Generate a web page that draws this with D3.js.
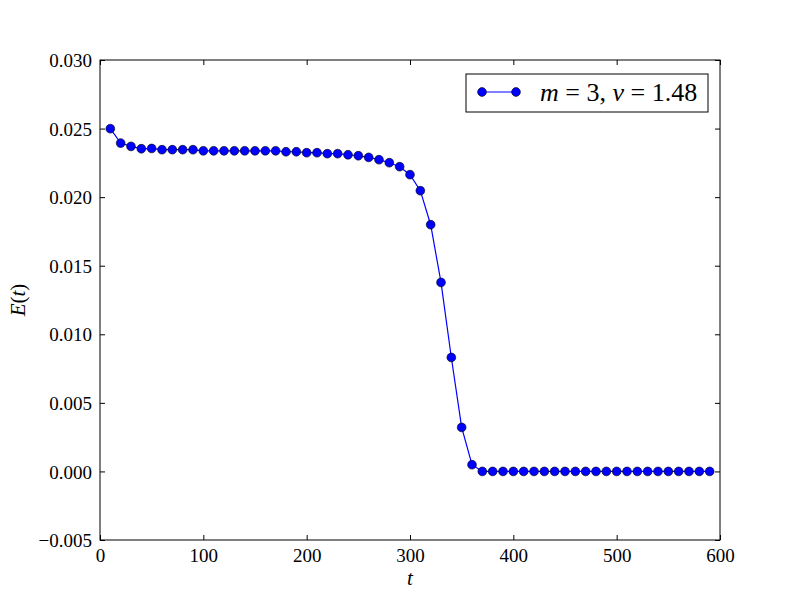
<!DOCTYPE html>
<html>
<head>
<meta charset="utf-8">
<script src="https://cdn.jsdelivr.net/npm/d3@7"></script>
<style>
body{margin:0;background:#fff;}
svg{display:block;}
text{font-family:"Liberation Serif","DejaVu Serif",serif;fill:#000;}
</style>
</head>
<body>
<svg id="chart" width="800" height="600"></svg>
<script>
const tValues = [10,20,30,40,50,60,70,80,90,100,110,120,130,140,150,160,170,180,190,200,
  210,220,230,240,250,260,270,280,290,300,310,320,330,340,350,360,370,380,390,400,
  410,420,430,440,450,460,470,480,490,500,510,520,530,540,550,560,570,580,590];
const eValues = [0.02499,0.02394,0.02370,0.02353,0.02355,0.02346,0.02346,0.02346,0.02346,0.02338,
  0.02338,0.02338,0.02338,0.02338,0.02338,0.02338,0.02338,0.02331,0.02331,0.02324,
  0.02324,0.02317,0.02317,0.02309,0.02302,0.02290,0.02273,0.02251,0.02222,0.02164,
  0.02047,0.01799,0.01378,0.00831,0.00321,0.00049,0,0,0,0,
  0,0,0,0,0,0,0,0,0,0,0,0,0,0,0,0,0,0,0];
const xTicks = [0,100,200,300,400,500,600];
const yTicks = [-0.005,0.000,0.005,0.010,0.015,0.020,0.025,0.030];

const svg = d3.select("#chart");
const L=100,R=720,T=60,B=540;
const x = d3.scaleLinear().domain([0,600]).range([L,R]);
const y = d3.scaleLinear().domain([-0.005,0.030]).range([B,T]);
const fmtY = v => { const s = Math.abs(v).toFixed(3); return (v < -1e-12 ? "\u2212" : "") + s; };

const tickLen = 5;
const gx = svg.append("g").attr("transform",`translate(0,${B})`)
  .call(d3.axisBottom(x).tickValues(xTicks).tickSize(-tickLen).tickPadding(9).tickFormat(d3.format("d")));
const gxt = svg.append("g").attr("transform",`translate(0,${T})`)
  .call(d3.axisTop(x).tickValues(xTicks).tickSize(-tickLen).tickFormat(""));
const gy = svg.append("g").attr("transform",`translate(${L},0)`)
  .call(d3.axisLeft(y).tickValues(yTicks).tickSize(-tickLen).tickPadding(8).tickFormat(fmtY));
const gyr = svg.append("g").attr("transform",`translate(${R},0)`)
  .call(d3.axisRight(y).tickValues(yTicks).tickSize(-tickLen).tickFormat(""));
[gx,gxt,gy,gyr].forEach(g=>{
  g.attr("font-family",null);
  g.select(".domain").remove();
  g.selectAll("line").attr("stroke","#000").attr("stroke-width",1);
  g.selectAll("text").style("font-family",'"Liberation Serif","DejaVu Serif",serif').style("font-size","19px").attr("fill","#000");
});
gx.selectAll("text").attr("dy","0.71em");
gy.selectAll("text").attr("dy","0.35em");

svg.append("rect").attr("x",L).attr("y",T).attr("width",R-L).attr("height",B-T)
  .attr("fill","none").attr("stroke","#000").attr("stroke-width",1);

const data = tValues.map((t,i)=>({t, e:eValues[i]}));
const line = d3.line().x(d=>x(d.t)).y(d=>y(d.e));
svg.append("path").datum(data).attr("d",line).attr("fill","none").attr("stroke","#0000ff").attr("stroke-width",1.2);
svg.append("g").selectAll("circle").data(data).join("circle")
  .attr("cx",d=>x(d.t)).attr("cy",d=>y(d.e)).attr("r",4.4)
  .attr("fill","#0000ff").attr("stroke","#000").attr("stroke-width",0.6);

svg.append("text").attr("x",(L+R)/2).attr("y",585).attr("text-anchor","middle")
  .style("font-size","21px").style("font-style","italic").text("t");
const yl = svg.append("text").attr("transform",`translate(25,${(T+B)/2}) rotate(-90)`).attr("text-anchor","middle")
  .style("font-size","21px");
yl.append("tspan").style("font-style","italic").text("E");
yl.append("tspan").text("(");
yl.append("tspan").style("font-style","italic").text("t");
yl.append("tspan").text(")");

const lg = svg.append("g");
lg.append("rect").attr("x",466).attr("y",74).attr("width",242).attr("height",38)
  .attr("fill","#fff").attr("stroke","#000").attr("stroke-width",1);
lg.append("line").attr("x1",482).attr("x2",516).attr("y1",92).attr("y2",92).attr("stroke","#0000ff").attr("stroke-width",1.2);
[482,516].forEach(cx=>lg.append("circle").attr("cx",cx).attr("cy",92).attr("r",4.4).attr("fill","#0000ff").attr("stroke","#000").attr("stroke-width",0.6));
const lt = lg.append("text").attr("x",540).attr("y",101).style("font-size","26px");
lt.append("tspan").style("font-style","italic").text("m");
lt.append("tspan").text(" = 3, ");
lt.append("tspan").style("font-style","italic").text("\u03bd");
lt.append("tspan").text(" = 1.48");
</script>
</body>
</html>
